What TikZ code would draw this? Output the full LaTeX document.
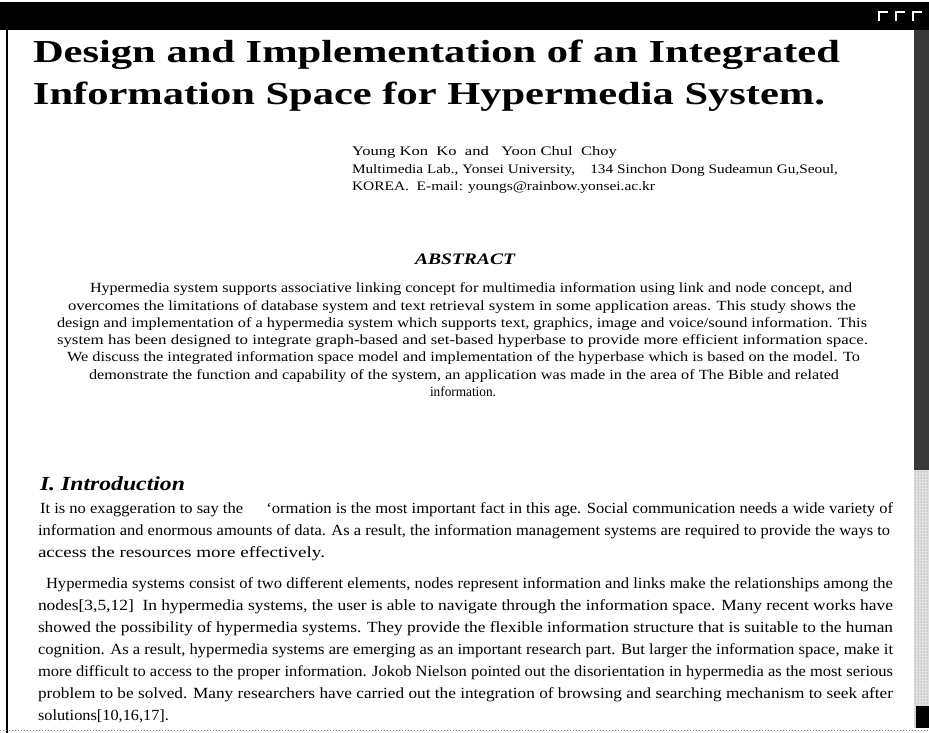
\documentclass[tikz,border=0pt]{standalone}
\usepackage{fontspec}
\setmainfont{Liberation Serif}
\usepackage{graphicx}
\usetikzlibrary{patterns}

% set a line of text and stretch it horizontally to a given width (in pt)
\newsavebox\fitbox
\newcommand\fitw[2]{\sbox\fitbox{#2}\pgfmathsetmacro\fitr{#1/\the\wd\fitbox}\scalebox{\fitr}[1]{\usebox\fitbox}}

\tikzset{
  txt/.style={anchor=base west, inner sep=0pt, outer sep=0pt},
  ttl/.style={txt, font=\bfseries\fontsize{32}{38}\selectfont},
  auth/.style={txt, font=\fontsize{13}{16}\selectfont},
  head/.style={txt, font=\bfseries\itshape\fontsize{16}{19}\selectfont},
  sect/.style={txt, font=\bfseries\itshape\fontsize{20}{24}\selectfont},
  abs/.style={txt, font=\fontsize{14}{17}\selectfont},
  body/.style={txt, font=\fontsize{15.5}{22}\selectfont},
}

\begin{document}
\begin{tikzpicture}[x=1pt, y=-1pt]
  \useasboundingbox (0,0) rectangle (929,733);
  \fill[white] (0,0) rectangle (929,733);

  % window frame: title bar, left edge, bottom edge
  \fill[black] (0,2) rectangle (929,30);
  \draw[white, line width=1.2pt] (879,21) -- (879,12) -- (888,12);
  \draw[white, line width=1.2pt] (896,21) -- (896,12) -- (905,12);
  \draw[white, line width=1.2pt] (913,21) -- (913,12) -- (922,12);
  \draw[black, line width=2.5pt] (7,30) -- (7,733);
  \draw[gray, dotted, line width=1pt] (0,730) -- (929,730);

  % scroll bar
  \fill[black!78] (914,30) rectangle (929,470);
  \fill[black!12] (914,470) rectangle (929,728);
  \fill[pattern=dots, pattern color=black!55] (914,470) rectangle (929,728);
  \fill[black] (916,706) rectangle (929,728);

  % title
  \node[ttl] (t1) at (33,63)  {\fitw{807}{Design and Implementation of an Integrated}};
  \node[ttl] (t2) at (33,105) {\fitw{792}{Information Space for Hypermedia System.}};

  % authors
  \node[auth] (au1) at (352,156) {\fitw{265}{Young Kon\ \ Ko\ \ and\ \ \ Yoon Chul\ \ Choy}};
  \node[auth] (au2) at (352,173) {\fitw{486}{Multimedia Lab., Yonsei University,\ \ \ \ 134 Sinchon Dong Sudeamun Gu,Seoul,}};
  \node[auth] (au3) at (352,190) {\fitw{303}{KOREA.\ \ E-mail: youngs@rainbow.yonsei.ac.kr}};

  % abstract
  \node[head] (abh) at (415,264) {\fitw{100}{ABSTRACT}};
  \node[abs] (a1) at (90,292)  {\fitw{762}{Hypermedia system supports associative linking concept for multimedia information using link and node concept, and}};
  \node[abs] (a2) at (68,310)  {\fitw{788}{overcomes the limitations of database system and text retrieval system in some application areas. This study shows the}};
  \node[abs] (a3) at (57,327)  {\fitw{810}{design and implementation of a hypermedia system which supports text, graphics, image and voice/sound information. This}};
  \node[abs] (a4) at (57,344)  {\fitw{811}{system has been designed to integrate graph-based and set-based hyperbase to provide more efficient information space.}};
  \node[abs] (a5) at (67,361)  {\fitw{793}{We discuss the integrated information space model and implementation of the hyperbase which is based on the model. To}};
  \node[abs] (a6) at (89,379)  {\fitw{750}{demonstrate the function and capability of the system, an application was made in the area of The Bible and related}};
  \node[abs] (a7) at (430,396) {\fitw{66}{information.}};

  % introduction
  \node[sect] (ih) at (40,490) {\fitw{145}{I. Introduction}};
  \node[body] (b1) at (40,513) {\fitw{853}{It is no exaggeration to say the\hspace{1.4em}`ormation is the most important fact in this age. Social communication needs a wide variety of}};
  \node[body] (b2) at (38,535) {\fitw{852}{information and enormous amounts of data. As a result, the information management systems are required to provide the ways to}};
  \node[body] (b3) at (38,557) {\fitw{287}{access the resources more effectively.}};
  \node[body] (b4) at (46,588) {\fitw{847}{Hypermedia systems consist of two different elements, nodes represent information and links make the relationships among the}};
  \node[body] (b5) at (38,610) {\fitw{855}{nodes[3,5,12]\ \ In hypermedia systems, the user is able to navigate through the information space. Many recent works have}};
  \node[body] (b6) at (38,632) {\fitw{855}{showed the possibility of hypermedia systems. They provide the flexible information structure that is suitable to the human}};
  \node[body] (b7) at (38,654) {\fitw{855}{cognition. As a result, hypermedia systems are emerging as an important research part. But larger the information space, make it}};
  \node[body] (b8) at (38,676) {\fitw{855}{more difficult to access to the proper information. Jokob Nielson pointed out the disorientation in hypermedia as the most serious}};
  \node[body] (b9) at (38,698) {\fitw{855}{problem to be solved. Many researchers have carried out the integration of browsing and searching mechanism to seek after}};
  \node[body] (b10) at (38,720) {\fitw{131}{solutions[10,16,17].}};
\end{tikzpicture}
\end{document}
